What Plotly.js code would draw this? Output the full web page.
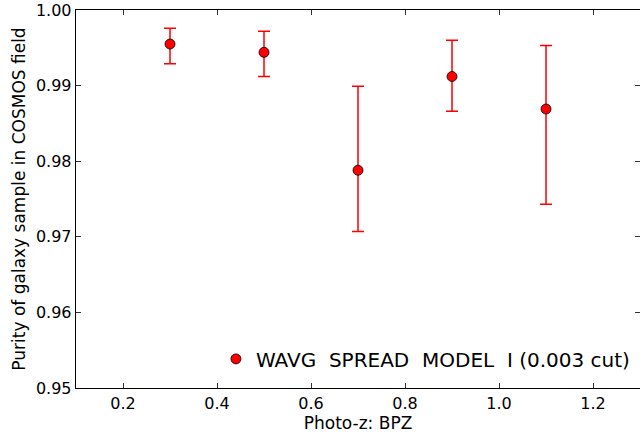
<!DOCTYPE html>
<html>
<head>
<meta charset="utf-8">
<script src="https://cdn.plot.ly/plotly-3.0.1.min.js"></script>
<style>
  html, body { margin: 0; padding: 0; background: #fff; }
  #plot { width: 640px; height: 437px; }
</style>
</head>
<body>
<div id="plot"></div>
<script>
// photo-z bins and purity values
var zBins = [0.3, 0.5, 0.7, 0.9, 1.1];
var purity = [0.9955, 0.9944, 0.9788, 0.9912, 0.9869];
var errUp = [0.0021, 0.0028, 0.0111, 0.0048, 0.0084];
var errDown = [0.0026, 0.0032, 0.0081, 0.0046, 0.0126];
var seriesName = 'WAVG\u00a0\u00a0SPREAD\u00a0\u00a0MODEL\u00a0\u00a0I (0.003 cut)';

var font = 'DejaVu Sans, sans-serif';

var data = [{
  x: zBins,
  y: purity,
  type: 'scatter',
  mode: 'markers',
  name: seriesName,
  marker: {
    color: 'rgb(255,0,0)',
    size: 10,
    line: { color: 'black', width: 0.8 }
  },
  error_y: {
    type: 'data',
    symmetric: false,
    array: errUp,
    arrayminus: errDown,
    color: 'rgb(255,0,0)',
    thickness: 1.5,
    width: 6
  }
}];

var layout = {
  width: 640,
  height: 437,
  margin: { l: 76, r: 0, t: 10, b: 49 },
  paper_bgcolor: 'white',
  plot_bgcolor: 'white',
  showlegend: true,
  legend: {
    x: 0.991,
    xanchor: 'right',
    y: 0.077,
    yanchor: 'middle',
    bgcolor: 'rgba(0,0,0,0)',
    borderwidth: 0,
    font: { family: font, size: 20, color: 'black' }
  },
  xaxis: {
    range: [0.1, 1.3],
    tickvals: [0.2, 0.4, 0.6, 0.8, 1.0, 1.2],
    ticktext: ['0.2', '0.4', '0.6', '0.8', '1.0', '1.2'],
    showgrid: false,
    zeroline: false,
    showline: true,
    linecolor: 'black',
    linewidth: 1.3,
    mirror: 'allticks',
    ticks: 'inside',
    ticklen: 5,
    tickwidth: 1,
    tickcolor: '#333',
    tickfont: { family: font, size: 16, color: 'black' },
    title: { text: 'Photo-z: BPZ', font: { family: font, size: 17, color: 'black' }, standoff: 2 }
  },
  yaxis: {
    range: [0.95, 1.0],
    tickvals: [0.95, 0.96, 0.97, 0.98, 0.99, 1.0],
    ticktext: ['0.95', '0.96', '0.97', '0.98', '0.99', '1.00'],
    showgrid: false,
    zeroline: false,
    showline: true,
    linecolor: 'black',
    linewidth: 1.3,
    mirror: 'allticks',
    ticks: 'inside',
    ticklen: 5,
    tickwidth: 1,
    tickcolor: '#333',
    tickfont: { family: font, size: 16, color: 'black' },
    title: { text: 'Purity of galaxy sample in COSMOS field', font: { family: font, size: 17, color: 'black' }, standoff: 6 }
  }
};

Plotly.newPlot('plot', data, layout, { displayModeBar: false, staticPlot: true });
</script>
</body>
</html>
